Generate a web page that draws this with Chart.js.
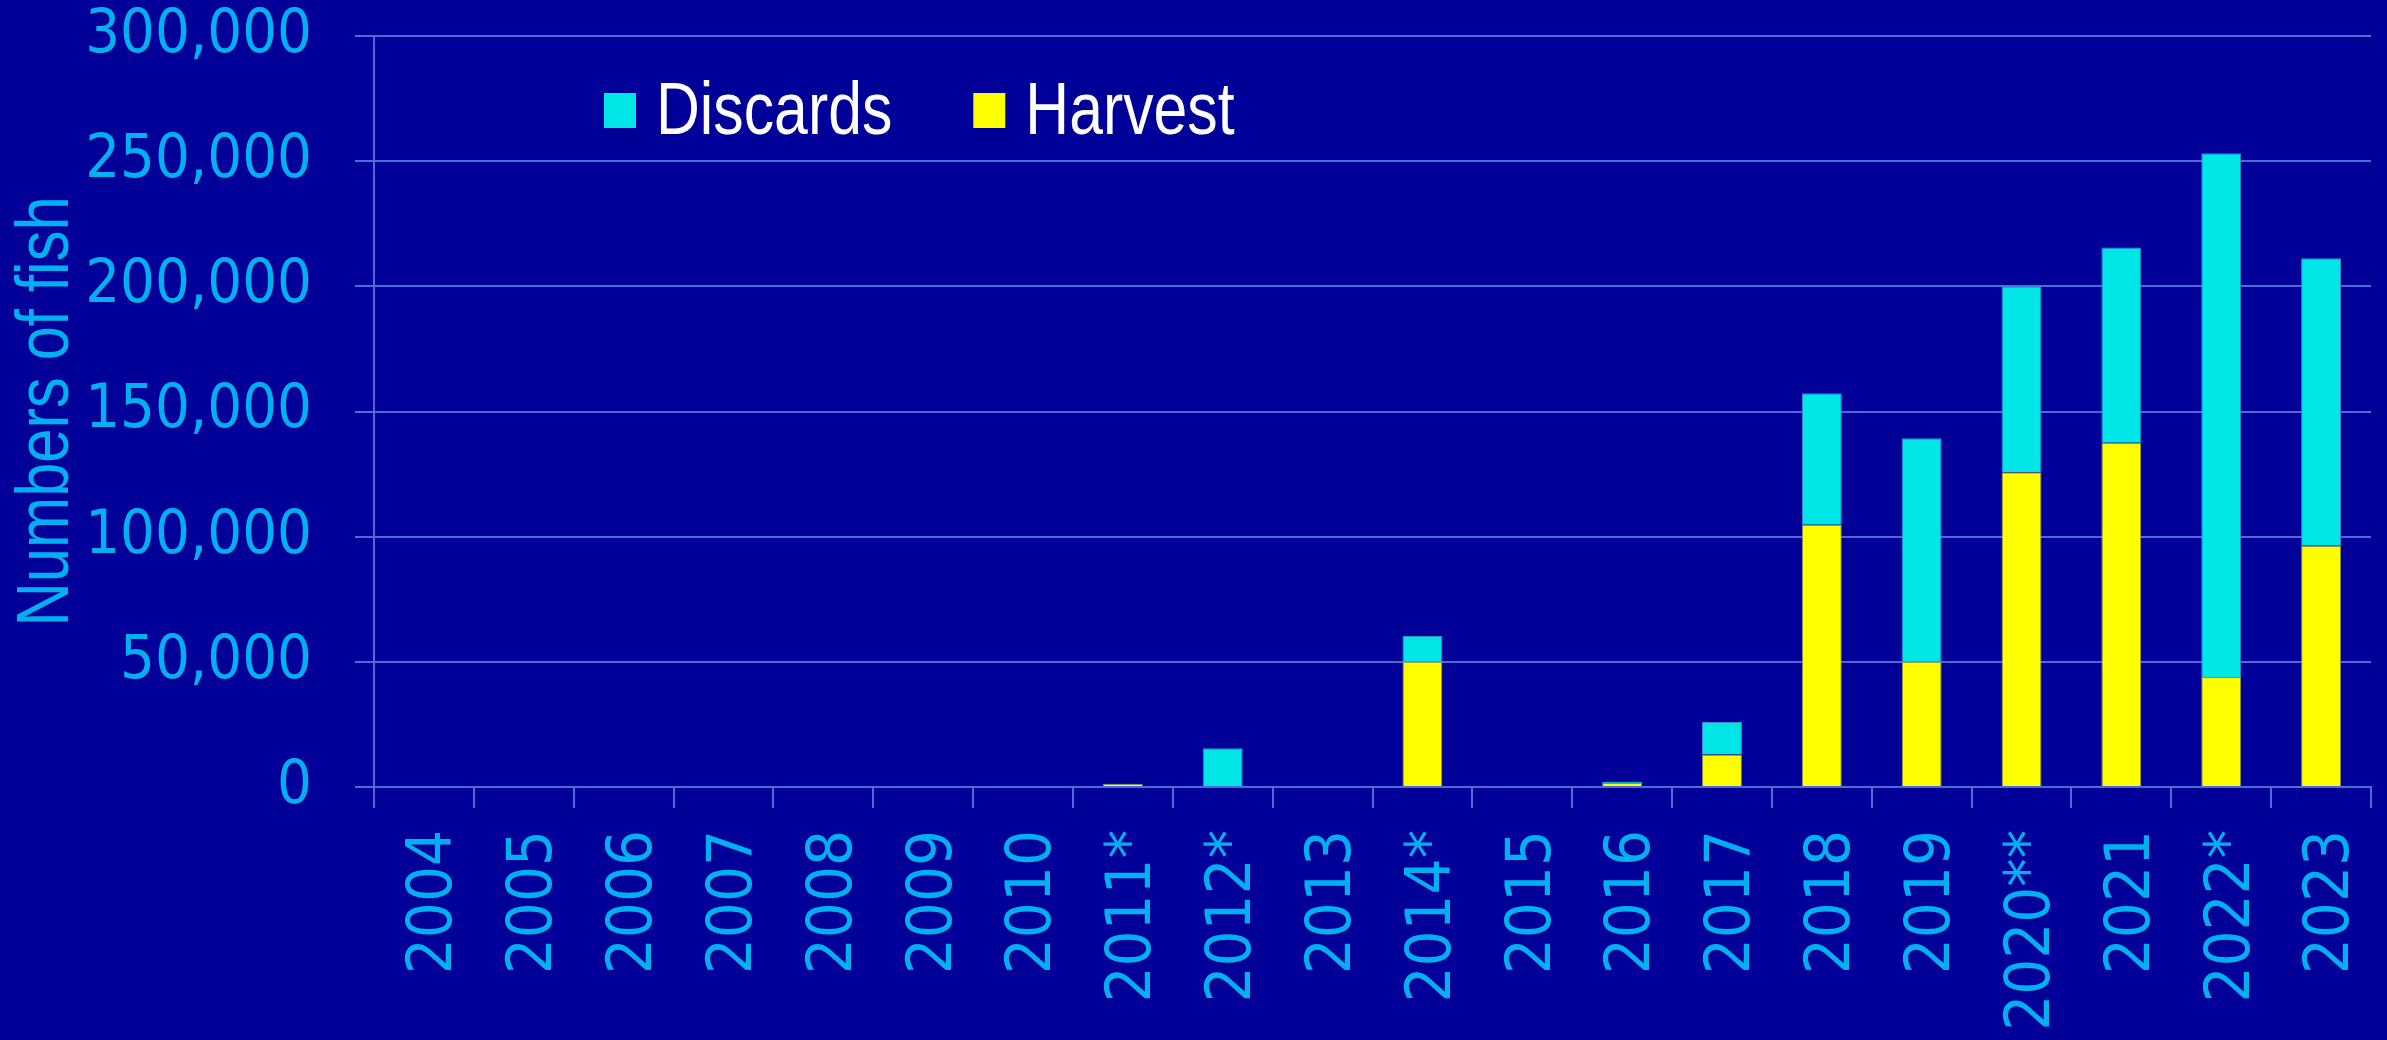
<!DOCTYPE html>
<html>
<head>
<meta charset="utf-8">
<script src="https://cdn.jsdelivr.net/npm/chart.js@4/dist/chart.umd.min.js"></script>
<style>
  html, body { margin: 0; padding: 0; background: #000099; }
  canvas { display: block; }
</style>
</head>
<body>
<canvas id="chart-area" width="2387" height="1040"></canvas>
<script>
// years on the x axis (stars as printed on the original)
var years = ['2004','2005','2006','2007','2008','2009','2010','2011*','2012*','2013',
             '2014*','2015','2016','2017','2018','2019','2020**','2021','2022*','2023'];
// numbers of fish
var harvest  = [0,0,0,0,0,0,0,1300,0,0,50000,0,1600,13000,104800,50000,125700,137500,43900,96400];
var discards = [0,0,0,0,0,0,0,0,15500,0,10300,0,500,13000,52500,89300,74300,78000,209300,114800];
var yTicks = [0, 50000, 100000, 150000, 200000, 250000, 300000];
var yTitle = 'Numbers of fish';

var tickColor = '#00B0F0';
var gridColor = '#4A6CD6';
var numFont = "'DejaVu Sans Condensed', 'DejaVu Sans', sans-serif";
var narrowFont = "'Liberation Sans', Arial, sans-serif";

// text squeezed along its run, to mimic a narrow face
function narrowText(ctx, text, x, y, sx) {
  ctx.save();
  ctx.translate(x, y);
  ctx.scale(sx, 1);
  ctx.fillText(text, 0, 0);
  ctx.restore();
}

// legend inside the plot (Discards first) and the y axis title
var extras = {
  id: 'extras',
  afterDraw: function(chart) {
    var ctx = chart.ctx;
    var area = chart.chartArea;
    var sx = 0.81;
    var items = [chart.data.datasets[1], chart.data.datasets[0]];
    var x = area.left + 230;
    var y = area.top + 57;
    ctx.save();
    ctx.font = '75px ' + narrowFont;
    ctx.textBaseline = 'alphabetic';
    ctx.textAlign = 'left';
    for (let ds of items) {
      ctx.fillStyle = ds.backgroundColor;
      ctx.fillRect(x, y, 32, 35);
      ctx.fillStyle = '#FFFFFF';
      narrowText(ctx, ds.label, x + 52, y + 41, sx);
      x += 52 + ctx.measureText(ds.label).width * sx + 81;
    }
    // y title, rotated
    ctx.font = '74px ' + narrowFont;
    ctx.fillStyle = tickColor;
    ctx.translate(68, (area.top + area.bottom) / 2);
    ctx.rotate(-Math.PI / 2);
    ctx.textAlign = 'center';
    ctx.scale(0.83, 1);
    ctx.fillText(yTitle, 0, 0);
    ctx.restore();
  }
};

var config = {
  type: 'bar',
  data: {
    labels: years,
    datasets: [{
      label: 'Harvest',
      data: harvest,
      backgroundColor: '#FFFF00',
      borderColor: '#8C8C60',
      borderWidth: 1,
      barPercentage: 0.4,
      categoryPercentage: 1.0
    }, {
      label: 'Discards',
      data: discards,
      backgroundColor: '#00E6E6',
      borderColor: '#3C8CC8',
      borderWidth: 1,
      barPercentage: 0.4,
      categoryPercentage: 1.0
    }]
  },
  options: {
    responsive: false,
    animation: false,
    layout: { padding: { top: 36, right: 16, left: 0, bottom: 0 } },
    plugins: {
      legend: { display: false },
      tooltip: { enabled: false }
    },
    scales: {
      x: {
        stacked: true,
        grid: {
          offset: true,
          drawOnChartArea: false,
          color: gridColor,
          lineWidth: 2,
          tickLength: 21
        },
        border: { color: gridColor, width: 2 },
        ticks: {
          color: tickColor,
          font: { family: numFont, size: 63 },
          minRotation: 90,
          maxRotation: 90,
          padding: 22,
          labelOffset: 11,
          autoSkip: false
        },
        afterFit: function(axis) {
          axis.height = 253;
          axis.paddingLeft = 0;
          axis.paddingRight = 0;
        }
      },
      y: {
        stacked: true,
        min: 0,
        max: 300000,
        afterBuildTicks: function(axis) {
          axis.ticks = yTicks.map(function(v) { return { value: v }; });
        },
        grid: {
          color: gridColor,
          lineWidth: 2,
          tickLength: 19
        },
        border: { color: gridColor, width: 2 },
        ticks: {
          color: tickColor,
          font: { family: numFont, size: 61 },
          padding: 43,
          callback: function(v) { return v.toLocaleString('en-US'); }
        },
        afterFit: function(axis) {
          axis.width = 374;
          axis.paddingTop = 0;
          axis.paddingBottom = 0;
        }
      }
    }
  },
  plugins: [extras]
};

var ctx = document.getElementById('chart-area').getContext('2d');
window.myBar = new Chart(ctx, config);
</script>
</body>
</html>
